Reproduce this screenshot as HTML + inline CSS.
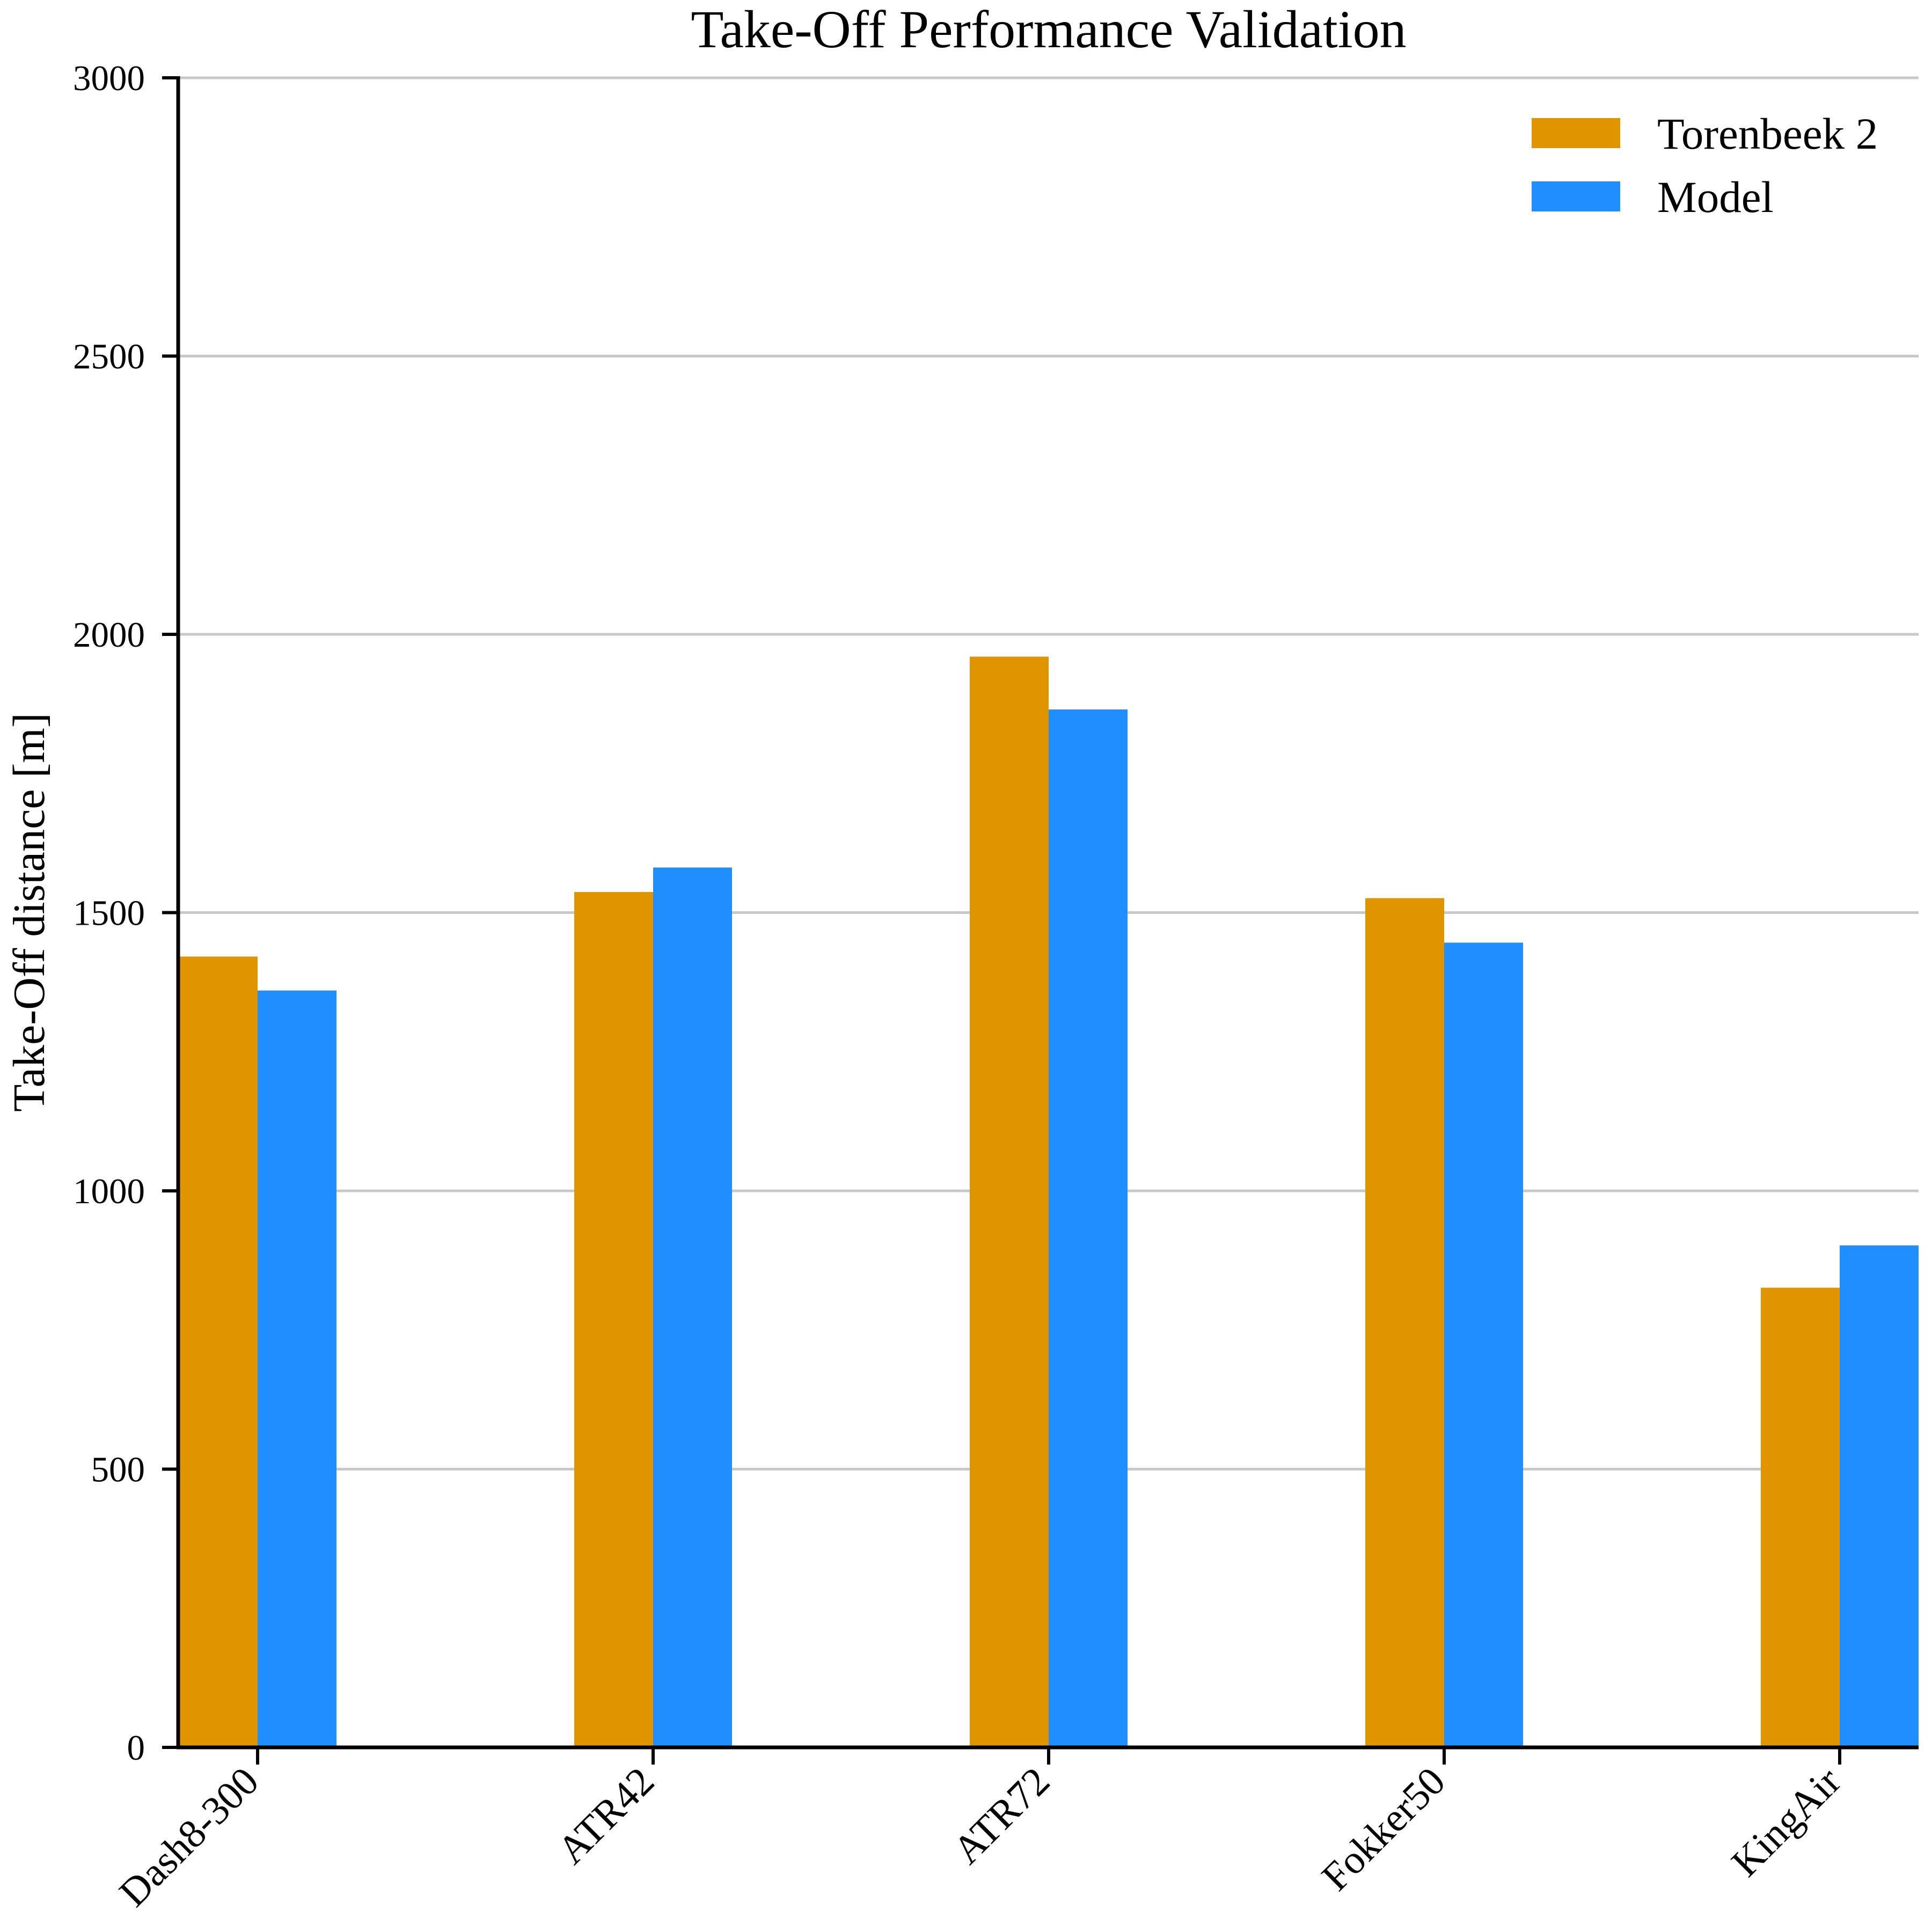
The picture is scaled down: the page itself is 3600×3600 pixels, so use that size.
<!DOCTYPE html>
<html><head><meta charset="utf-8"><style>
html,body{margin:0;padding:0;background:#fff;}
svg{display:block;font-family:"Liberation Serif","DejaVu Serif",serif;}
</style></head><body>
<svg id="chart" width="3600" height="3600" viewBox="0 0 3600 3600" xmlns="http://www.w3.org/2000/svg">
<rect width="3600" height="3600" fill="#fff"/>
<g id="grid"></g>
<g id="bars"></g>
<g id="axes"></g>
<text x="1954" y="88" font-size="100" text-anchor="middle">Take-Off Performance Validation</text>
<text transform="translate(82,1700) rotate(-90)" font-size="84" text-anchor="middle">Take-Off distance [m]</text>
<g>
<rect x="2854" y="220" width="165" height="56" fill="#E09400"/>
<text x="3088" y="277" font-size="83">Torenbeek 2</text>
<rect x="2854" y="338" width="165" height="56" fill="#1F8FFF"/>
<text x="3088" y="395" font-size="83">Model</text>
</g>
</svg>
<script>
const categories = ["Dash8-300","ATR42","ATR72","Fokker50","KingAir"];
const torenbeek = [1421,1537,1960,1526,826];
const model = [1360,1581,1865,1446,902];
const yTicks = [0,500,1000,1500,2000,2500,3000];

const NS="http://www.w3.org/2000/svg";
const X0=333, X1=3575, Y0=3256, Y1=145, YMAX=3000;
const step=737, barW=147, firstC=480;
function xC(i){return firstC+i*step;}
function yS(v){return Y0-(v/YMAX)*(Y0-Y1);}
function mk(tag,attrs,parent){const e=document.createElementNS(NS,tag);for(const k in attrs)e.setAttribute(k,attrs[k]);parent.appendChild(e);return e;}
const grid=document.getElementById('grid'),bars=document.getElementById('bars'),axes=document.getElementById('axes');
yTicks.forEach(t=>{
  if(t>0){const g=mk('line',{x1:X0,x2:X1,y1:yS(t),y2:yS(t),stroke:'#c8c8c8','stroke-width':5},grid);
  
  }
  const tk=mk('line',{x1:302,x2:X0,y1:yS(t),y2:yS(t),stroke:'#000','stroke-width':6},axes);
  
  
  const lb=mk('text',{x:270,y:yS(t)+23,'font-size':67,'text-anchor':'end'},axes);
  lb.textContent=t;
  
  
});
categories.forEach((c,i)=>{
  const cx=xC(i);
  const a=mk('rect',{x:cx-barW,y:yS(torenbeek[i]),width:barW,height:Y0-yS(torenbeek[i]),fill:'#E09400'},bars);
  
  
  const b=mk('rect',{x:cx,y:yS(model[i]),width:barW,height:Y0-yS(model[i]),fill:'#1F8FFF'},bars);
  
  
  const tk=mk('line',{x1:cx,x2:cx,y1:Y0,y2:Y0+32,stroke:'#000','stroke-width':6},axes);
  
  
  const lb=mk('text',{transform:`translate(${cx+6},${Y0+68}) rotate(-45)`,'font-size':75,'text-anchor':'end',x:0,y:0},axes);
  lb.textContent=c;
  
  
});
const ya=mk('line',{x1:X0-1,x2:X0-1,y1:Y1-3,y2:Y0+3,stroke:'#000','stroke-width':7},axes);


const xa=mk('line',{x1:X0-4,x2:X1,y1:Y0,y2:Y0,stroke:'#000','stroke-width':7},axes);


</script>
</body></html>
